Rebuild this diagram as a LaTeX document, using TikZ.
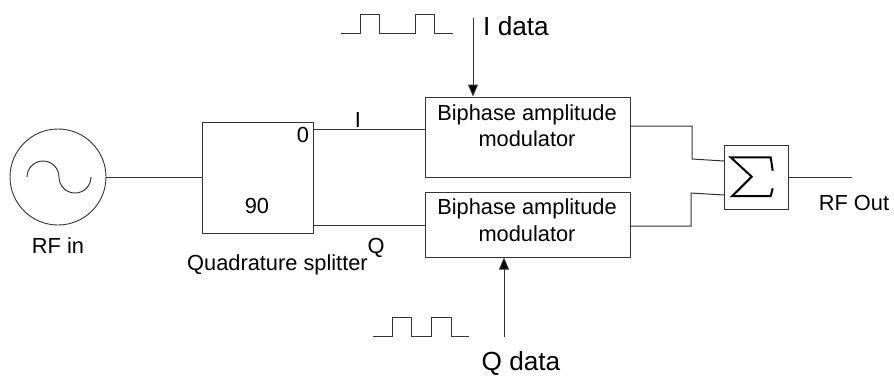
\documentclass[tikz,border=0pt]{standalone}
\usepackage{fontspec}
\setmainfont{Liberation Sans}
\usetikzlibrary{arrows.meta}
\tikzset{
  wire/.style={draw=black!80,line width=1pt},
  blockbox/.style={draw=black!80,line width=1pt,rectangle,inner sep=0pt},
  lbl/.style={inner sep=0pt,anchor=base,font=\fontsize{21.8}{26.5}\selectfont,align=center},
  biglbl/.style={inner sep=0pt,anchor=base,font=\fontsize{26.2}{30}\selectfont},
  feed/.style={wire,-{Triangle[length=12pt,width=10pt,fill=black]}}
}
\begin{document}
\begin{tikzpicture}[x=1pt,y=-1pt]
\useasboundingbox (0,0) rectangle (894,376);
% blocks
\node[draw=black!80,line width=0.9pt,circle,inner sep=0pt,minimum size=96pt] (src) at (58,177) {};
\node[blockbox,minimum width=111pt,minimum height=111pt] (split) at (257.5,177.5) {};
\node[blockbox,minimum width=205pt,minimum height=80pt] (modi) at (527.5,137) {};
\node[blockbox,minimum width=205pt,minimum height=65pt] (modq) at (527.5,224.5) {};
\node[blockbox,minimum width=64pt,minimum height=64pt] (sum) at (756,177) {};
% sine
\draw[line width=0.9pt,black!85] (27,177) arc[start angle=180,end angle=360,radius=16] arc[start angle=180,end angle=0,radius=16];
% sigma
\draw[line width=2pt,black,line join=miter] (772.7,170.7) -- (770.7,157.3) -- (730.7,157.3) -- (751.7,176.7) -- (732.3,196) -- (770.7,196) -- (772.7,188.3);
% named ends
\coordinate (iout) at (313,129);
\coordinate (iin) at (425,129);
\coordinate (qout) at (313,225);
\coordinate (qin) at (425,225);
\coordinate (modia) at (630,126);
\coordinate (modib) at (692,126);
\coordinate (modic) at (692,159);
\coordinate (sumi) at (724,161);
\coordinate (modqa) at (630,226);
\coordinate (modqb) at (691,226);
\coordinate (modqc) at (691,193);
\coordinate (sumq) at (724,195);
\coordinate (rfend) at (852,177);
\coordinate (idt) at (473,18);
\coordinate (qdt) at (504,337);
% connectors
\draw[wire] (src.east) -- (src.east -| split.west);
\draw[wire] (iout) -- (iin);
\draw[wire] (qout) -- (qin);
\draw[wire] (modia) -- (modib) -- (modic) -- (sumi);
\draw[wire] (modqa) -- (modqb) -- (modqc) -- (sumq);
\draw[wire] (sum.east) -- (rfend);
\draw[feed] (idt) -- (idt |- modi.north);
\draw[feed] (qdt) -- (qdt |- modq.south);
% pulses
\draw[wire] (341,33.5) -- (360,33.5) -- (360,14.5) -- (379,14.5) -- (379,33.5) -- (415,33.5) -- (415,14.5) -- (434,14.5) -- (434,33.5) -- (453,33.5);
\draw[wire] (373,336) -- (392,336) -- (392,317) -- (411,317) -- (411,336) -- (431,336) -- (431,317) -- (451,317) -- (451,336) -- (469,336);
% labels
\node[lbl] (l0) at (303,142) {0};
\node[lbl] (l90) at (257,213) {90};
\node[lbl] (li) at (358,127) {I};
\node[lbl] (lq) at (376,253) {Q};
\node[lbl] (lrfin) at (58,253) {RF in};
\node[lbl] (lqs) at (277.5,270) {Quadrature splitter};
\node[lbl] (lm1a) at (527,120) {Biphase amplitude};
\node[lbl] (lm1b) at (527,146) {modulator};
\node[lbl] (lm2a) at (527,214) {Biphase amplitude};
\node[lbl] (lm2b) at (527,241) {modulator};
\node[lbl] (lrfout) at (854,210) {RF Out};
\node[biglbl] (lid) at (516,35) {I data};
\node[biglbl] (lqd) at (521,370) {Q data};
\end{tikzpicture}
\end{document}
